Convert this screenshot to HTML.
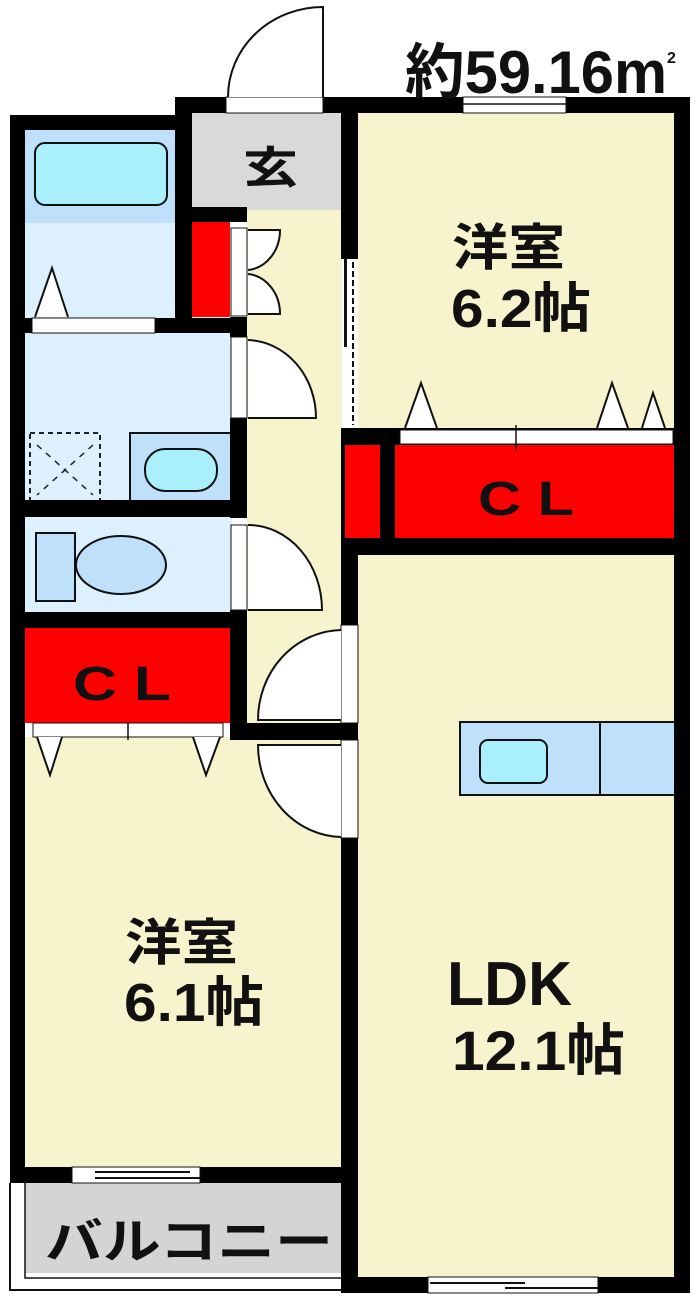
<!DOCTYPE html>
<html><head><meta charset="utf-8"><style>
html,body{margin:0;padding:0;background:#fff;width:700px;height:1307px;overflow:hidden}
svg{display:block}
text{font-family:"Liberation Sans","Noto Sans CJK JP",sans-serif;font-weight:bold;fill:#111}
</style></head><body>
<svg width="700" height="1307" viewBox="0 0 700 1307" xmlns="http://www.w3.org/2000/svg">
<rect width="700" height="1307" fill="#fff"/>
<!-- room fills -->
<rect x="25" y="130" width="150" height="93" fill="#bfe0fa"/>
<rect x="25" y="223" width="150" height="95" fill="#ddf0fd"/>
<rect x="192" y="113" width="150" height="97" fill="#d9d9d9"/>
<rect x="247" y="210" width="95" height="530" fill="#f7f3cd"/>
<rect x="358" y="113" width="316" height="317" fill="#f7f3cd"/>
<rect x="25" y="333" width="207" height="170" fill="#ddf0fd"/>
<rect x="25" y="517" width="207" height="96" fill="#ddf0fd"/>
<rect x="25" y="628" width="207" height="95" fill="#ff0000"/>
<rect x="192" y="222" width="38" height="95" fill="#ff0000"/>
<rect x="345" y="445" width="35" height="95" fill="#ff0000"/>
<rect x="395" y="445" width="280" height="95" fill="#ff0000"/>
<rect x="25" y="737" width="318" height="430" fill="#f7f3cd"/>
<rect x="358" y="555" width="317" height="722" fill="#f7f3cd"/>
<rect x="25" y="1183" width="318" height="90" fill="#d4d4d4"/>
<!-- bath fixtures -->
<rect x="35" y="143" width="132" height="62" rx="10" fill="#aaf0fc" stroke="#111" stroke-width="2"/>
<rect x="30" y="433" width="70" height="68" fill="none" stroke="#222" stroke-width="2" stroke-dasharray="5,4"/>
<path d="M37 445 L93 495 M93 445 L37 495" stroke="#222" stroke-width="1.5" stroke-dasharray="6,6"/>
<rect x="130" y="433" width="101" height="70" fill="#bfe0fa" stroke="#111" stroke-width="2"/>
<rect x="145" y="449" width="72" height="42" rx="20" fill="#aaf0fc" stroke="#111" stroke-width="2"/>
<rect x="36" y="533" width="39" height="68" fill="#bfe0fa" stroke="#111" stroke-width="2"/>
<ellipse cx="121" cy="565" rx="45" ry="29" fill="#bfe0fa" stroke="#111" stroke-width="2"/>
<rect x="460" y="722" width="215" height="73" fill="#bfe0fa" stroke="#111" stroke-width="2"/>
<line x1="600" y1="722" x2="600" y2="795" stroke="#111" stroke-width="2"/>
<rect x="480" y="740" width="67" height="43" rx="8" fill="#aaf0fc" stroke="#111" stroke-width="2"/>
<!-- walls -->
<g fill="#000">
<rect x="10" y="115" width="182" height="15"/>
<rect x="10" y="115" width="15" height="1052"/>
<rect x="175" y="97" width="17" height="236"/>
<rect x="176" y="97" width="50" height="16"/>
<rect x="323" y="97" width="140" height="16"/>
<rect x="566" y="97" width="124" height="16"/>
<rect x="341" y="97" width="17" height="162"/>
<rect x="674" y="97" width="16" height="1196"/>
<rect x="192" y="207" width="55" height="15"/>
<rect x="10" y="318" width="22" height="15"/>
<rect x="155" y="318" width="92" height="15"/>
<rect x="230" y="317" width="17" height="20"/>
<rect x="230" y="418" width="17" height="100"/>
<rect x="25" y="500" width="222" height="17"/>
<rect x="230" y="610" width="17" height="130"/>
<rect x="25" y="612" width="222" height="16"/>
<rect x="232" y="723" width="126" height="17"/>
<rect x="341" y="428" width="349" height="17"/>
<rect x="380" y="445" width="15" height="95"/>
<rect x="341" y="538" width="349" height="17"/>
<rect x="341" y="445" width="4" height="95"/>
<rect x="341" y="555" width="17" height="70"/>
<rect x="341" y="838" width="17" height="455"/>
<rect x="10" y="1167" width="62" height="16"/>
<rect x="200" y="1167" width="158" height="16"/>
<rect x="341" y="1277" width="87" height="16"/>
<rect x="598" y="1277" width="92" height="16"/>
</g>
<!-- windows -->
<rect x="226" y="97" width="97" height="16" fill="#fff" stroke="#111" stroke-width="1"/>
<rect x="463" y="97" width="103" height="16" fill="#fff" stroke="#111" stroke-width="1"/>
<line x1="463" y1="104" x2="566" y2="104" stroke="#111" stroke-width="1.5"/>
<rect x="72" y="1167" width="128" height="16" fill="#fff" stroke="#111" stroke-width="1"/>
<line x1="95" y1="1172" x2="190" y2="1172" stroke="#111" stroke-width="2"/>
<line x1="95" y1="1178" x2="200" y2="1178" stroke="#111" stroke-width="2"/>
<rect x="428" y="1277" width="170" height="16" fill="#fff" stroke="#111" stroke-width="1"/>
<line x1="430" y1="1283" x2="525" y2="1283" stroke="#111" stroke-width="2"/>
<line x1="505" y1="1288" x2="598" y2="1288" stroke="#111" stroke-width="2"/>
<!-- balcony outline -->
<path d="M10 1183 V1290 H341" fill="none" stroke="#111" stroke-width="2"/>
<path d="M25 1183 V1278 H341" fill="none" stroke="#111" stroke-width="1.5"/>
<!-- closet door strips -->
<rect x="32" y="318" width="123" height="15" fill="#fff" stroke="#111" stroke-width="1"/>
<rect x="33" y="723" width="190" height="14" fill="#fff" stroke="#111" stroke-width="1"/>
<rect x="400" y="430" width="273" height="14" fill="#fff" stroke="#111" stroke-width="1"/>
<line x1="516" y1="425" x2="516" y2="450" stroke="#111" stroke-width="1.5"/>
<line x1="128" y1="723" x2="128" y2="740" stroke="#111" stroke-width="1.5"/>
<!-- triangles -->
<g fill="#fff" stroke="#111" stroke-width="2">
<path d="M35 317 L52 268 L68 317"/>
<path d="M37 737 L50 775 L62 737"/>
<path d="M193 737 L206 775 L220 737"/>
<path d="M405 428 L421 383 L437 428"/>
<path d="M597 428 L612 383 L628 428"/>
<path d="M642 428 L653 393 L665 428"/>
</g>
<!-- sliding door left of 6.2 -->
<rect x="344" y="259" width="14" height="169" fill="#fff"/>
<rect x="344" y="259" width="3" height="88" fill="#111"/>
<line x1="353" y1="262" x2="353" y2="425" stroke="#111" stroke-width="2" stroke-dasharray="6,3"/>
<!-- door strips on hallway -->
<rect x="231" y="228" width="16" height="88" fill="#fff" stroke="#111" stroke-width="1"/>
<rect x="231" y="337" width="16" height="81" fill="#fff" stroke="#111" stroke-width="1"/>
<rect x="231" y="525" width="16" height="85" fill="#fff" stroke="#111" stroke-width="1"/>
<rect x="341" y="625" width="17" height="98" fill="#fff" stroke="#111" stroke-width="1"/>
<rect x="341" y="740" width="17" height="98" fill="#fff" stroke="#111" stroke-width="1"/>
<!-- door swings -->
<g fill="#fff" stroke="#111" stroke-width="2">
<path d="M323 97 V7 A95 90 0 0 0 228 97"/>
<path d="M248 230 H280 A35 40 0 0 1 248 270"/>
<path d="M248 314 H280 A35 40 0 0 0 248 274"/>
<path d="M248 418 H316 A70 78 0 0 0 248 340"/>
<path d="M248 610 H322 A74 85 0 0 0 248 525"/>
<path d="M341 720 H258 A85 90 0 0 1 341 630"/>
<path d="M341 745 H258 A85 92 0 0 0 341 837"/>
</g>
<!-- labels -->
<text x="405" y="93" font-size="60" textLength="262" lengthAdjust="spacingAndGlyphs">約59.16m</text>
<text x="667" y="63" font-size="16">2</text>
<text x="243" y="183" font-size="44" textLength="55" lengthAdjust="spacingAndGlyphs">玄</text>
<text x="452" y="265" font-size="50" textLength="113" lengthAdjust="spacingAndGlyphs">洋室</text>
<text x="451" y="327" font-size="54" textLength="140" lengthAdjust="spacingAndGlyphs">6.2帖</text>
<text x="478" y="515" font-size="48" textLength="96" lengthAdjust="spacingAndGlyphs">C L</text>
<text x="73" y="700" font-size="48" textLength="98" lengthAdjust="spacingAndGlyphs">C L</text>
<text x="125" y="960" font-size="50" textLength="113" lengthAdjust="spacingAndGlyphs">洋室</text>
<text x="124" y="1021" font-size="54" textLength="140" lengthAdjust="spacingAndGlyphs">6.1帖</text>
<text x="447" y="1005" font-size="62" textLength="125" lengthAdjust="spacingAndGlyphs">LDK</text>
<text x="452" y="1070" font-size="56" textLength="173" lengthAdjust="spacingAndGlyphs">12.1帖</text>
<text x="45" y="1258" font-size="48" textLength="288" lengthAdjust="spacingAndGlyphs">バルコニー</text>
</svg>
</body></html>
